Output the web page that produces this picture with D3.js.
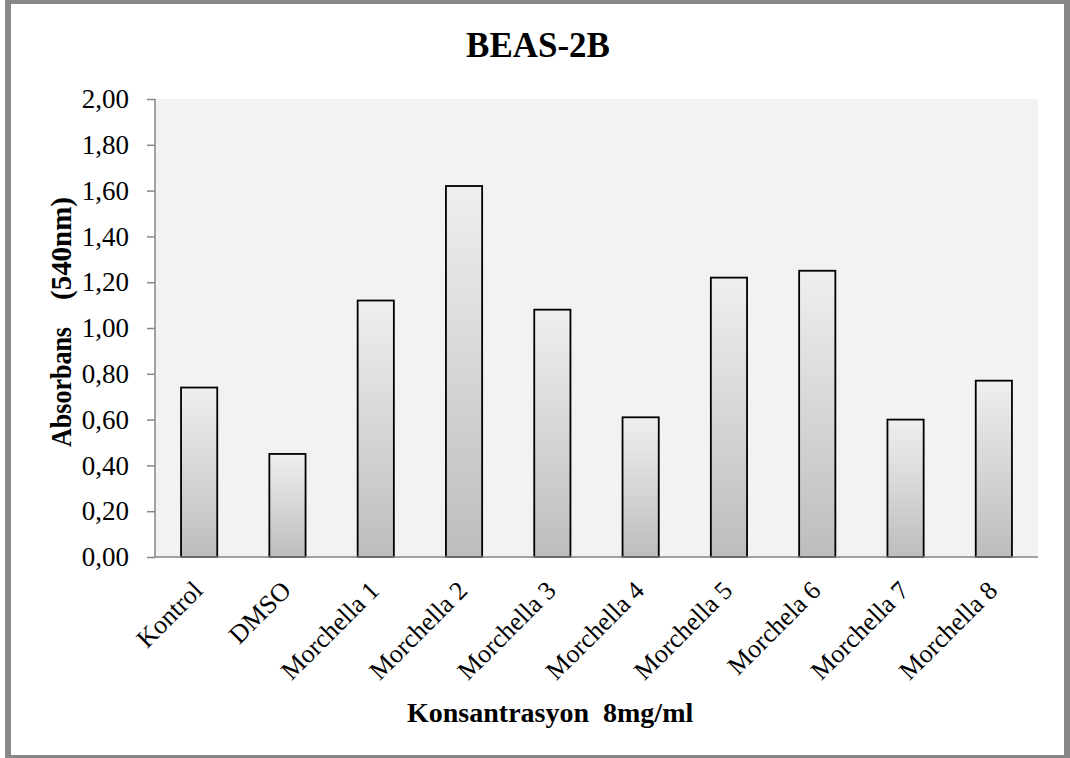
<!DOCTYPE html>
<html>
<head>
<meta charset="utf-8">
<script src="https://cdn.jsdelivr.net/npm/d3@7"></script>
<style>
  html, body { margin: 0; padding: 0; background: #ffffff; }
  svg { display: block; }
  text { font-family: "Liberation Serif", "Times New Roman", serif; fill: #000; }
</style>
</head>
<body>
<svg id="chart" width="1070" height="758"></svg>
<script>
// Absorbance (540 nm) of BEAS-2B cells, 8 mg/ml
const categories = ["Kontrol", "DMSO", "Morchella 1", "Morchella 2", "Morchella 3",
                    "Morchella 4", "Morchella 5", "Morchela 6", "Morchella 7", "Morchella 8"];
const absorbance = [0.74, 0.45, 1.12, 1.62, 1.08, 0.61, 1.22, 1.25, 0.60, 0.77];
const yTicks = [0, 0.2, 0.4, 0.6, 0.8, 1.0, 1.2, 1.4, 1.6, 1.8, 2.0];
const chartTitle = "BEAS-2B";
const xTitle = "Konsantrasyon  8mg/ml";
const yTitleParts = ["Absorbans", "(540nm)"];

const svg = d3.select("#chart");
const W = 1070, H = 758;

// outer frame
svg.append("rect").attr("x", 5).attr("y", 0).attr("width", W - 5).attr("height", H)
  .attr("fill", "#878787");
svg.append("rect").attr("x", 11).attr("y", 4).attr("width", 1053).attr("height", 751)
  .attr("fill", "#ffffff");

const plot = { left: 155, right: 1038, top: 99, bottom: 557 };

const x = d3.scaleBand()
  .domain(categories)
  .range([plot.left, plot.right])
  .paddingInner(0.59)
  .paddingOuter(0.295);

const y = d3.scaleLinear()
  .domain([0, 2])
  .range([plot.bottom, plot.top]);

// plot area background
svg.append("rect")
  .attr("x", plot.left).attr("y", plot.top)
  .attr("width", plot.right - plot.left).attr("height", plot.bottom - plot.top)
  .attr("fill", "#f2f2f2");

// bar fill: light at the top, darker towards the base
const defs = svg.append("defs");
const grad = defs.append("linearGradient")
  .attr("id", "barFill").attr("x1", 0).attr("y1", 0).attr("x2", 0).attr("y2", 1);
grad.append("stop").attr("offset", "0%").attr("stop-color", "#efefef");
grad.append("stop").attr("offset", "100%").attr("stop-color", "#bdbdbd");

svg.append("g").selectAll("rect")
  .data(categories.map((c, i) => ({ c, v: absorbance[i] })))
  .join("rect")
  .attr("x", d => x(d.c))
  .attr("y", d => y(d.v))
  .attr("width", x.bandwidth())
  .attr("height", d => y(0) - y(d.v))
  .attr("fill", "url(#barFill)")
  .attr("stroke", "#000")
  .attr("stroke-width", 1.8);

// y axis with comma decimals
const comma = d3.formatLocale({ decimal: ",", thousands: ".", grouping: [3], currency: ["", ""] });
const fmt = comma.format(".2f");
const yAxis = svg.append("g")
  .attr("transform", `translate(${plot.left},0)`)
  .call(d3.axisLeft(y).tickValues(yTicks).tickFormat(fmt).tickSize(8).tickPadding(18));
yAxis.selectAll("path, line").attr("stroke", "#868686").attr("stroke-width", 1.5);
yAxis.select(".domain").attr("d", `M0,${plot.top}V${plot.bottom}`);
yAxis.selectAll("text")
  .attr("font-family", "Liberation Serif, serif")
  .attr("font-size", 27)
  .attr("fill", "#000");

// x axis baseline
const xAxis = svg.append("g")
  .attr("transform", `translate(0,${plot.bottom})`)
  .call(d3.axisBottom(x).tickSize(0).tickFormat(""));
xAxis.select(".domain").attr("stroke", "#868686").attr("stroke-width", 1.5)
  .attr("d", `M${plot.left},0H${plot.right}`);

// rotated category labels
svg.append("g").selectAll("text")
  .data(categories)
  .join("text")
  .attr("transform", d => `translate(${x(d) + x.bandwidth() / 2 + 5},592) rotate(-45)`)
  .attr("text-anchor", "end")
  .attr("font-size", 26)
  .text(d => d);

// chart title
svg.append("text")
  .attr("x", 538).attr("y", 57)
  .attr("text-anchor", "middle")
  .attr("font-size", 35)
  .attr("font-weight", "bold")
  .text(chartTitle);

// x axis title
svg.append("text")
  .attr("x", 407).attr("y", 722)
  .attr("font-size", 28)
  .attr("font-weight", "bold")
  .style("white-space", "pre")
  .text(xTitle);

// y axis title, two parts
svg.append("text")
  .attr("transform", "translate(71,447) rotate(-90)")
  .attr("font-size", 29)
  .attr("font-weight", "bold")
  .attr("textLength", 120)
  .attr("lengthAdjust", "spacingAndGlyphs")
  .text(yTitleParts[0]);
svg.append("text")
  .attr("transform", "translate(71,300) rotate(-90)")
  .attr("font-size", 29)
  .attr("font-weight", "bold")
  .attr("textLength", 103)
  .attr("lengthAdjust", "spacingAndGlyphs")
  .text(yTitleParts[1]);
</script>
</body>
</html>
